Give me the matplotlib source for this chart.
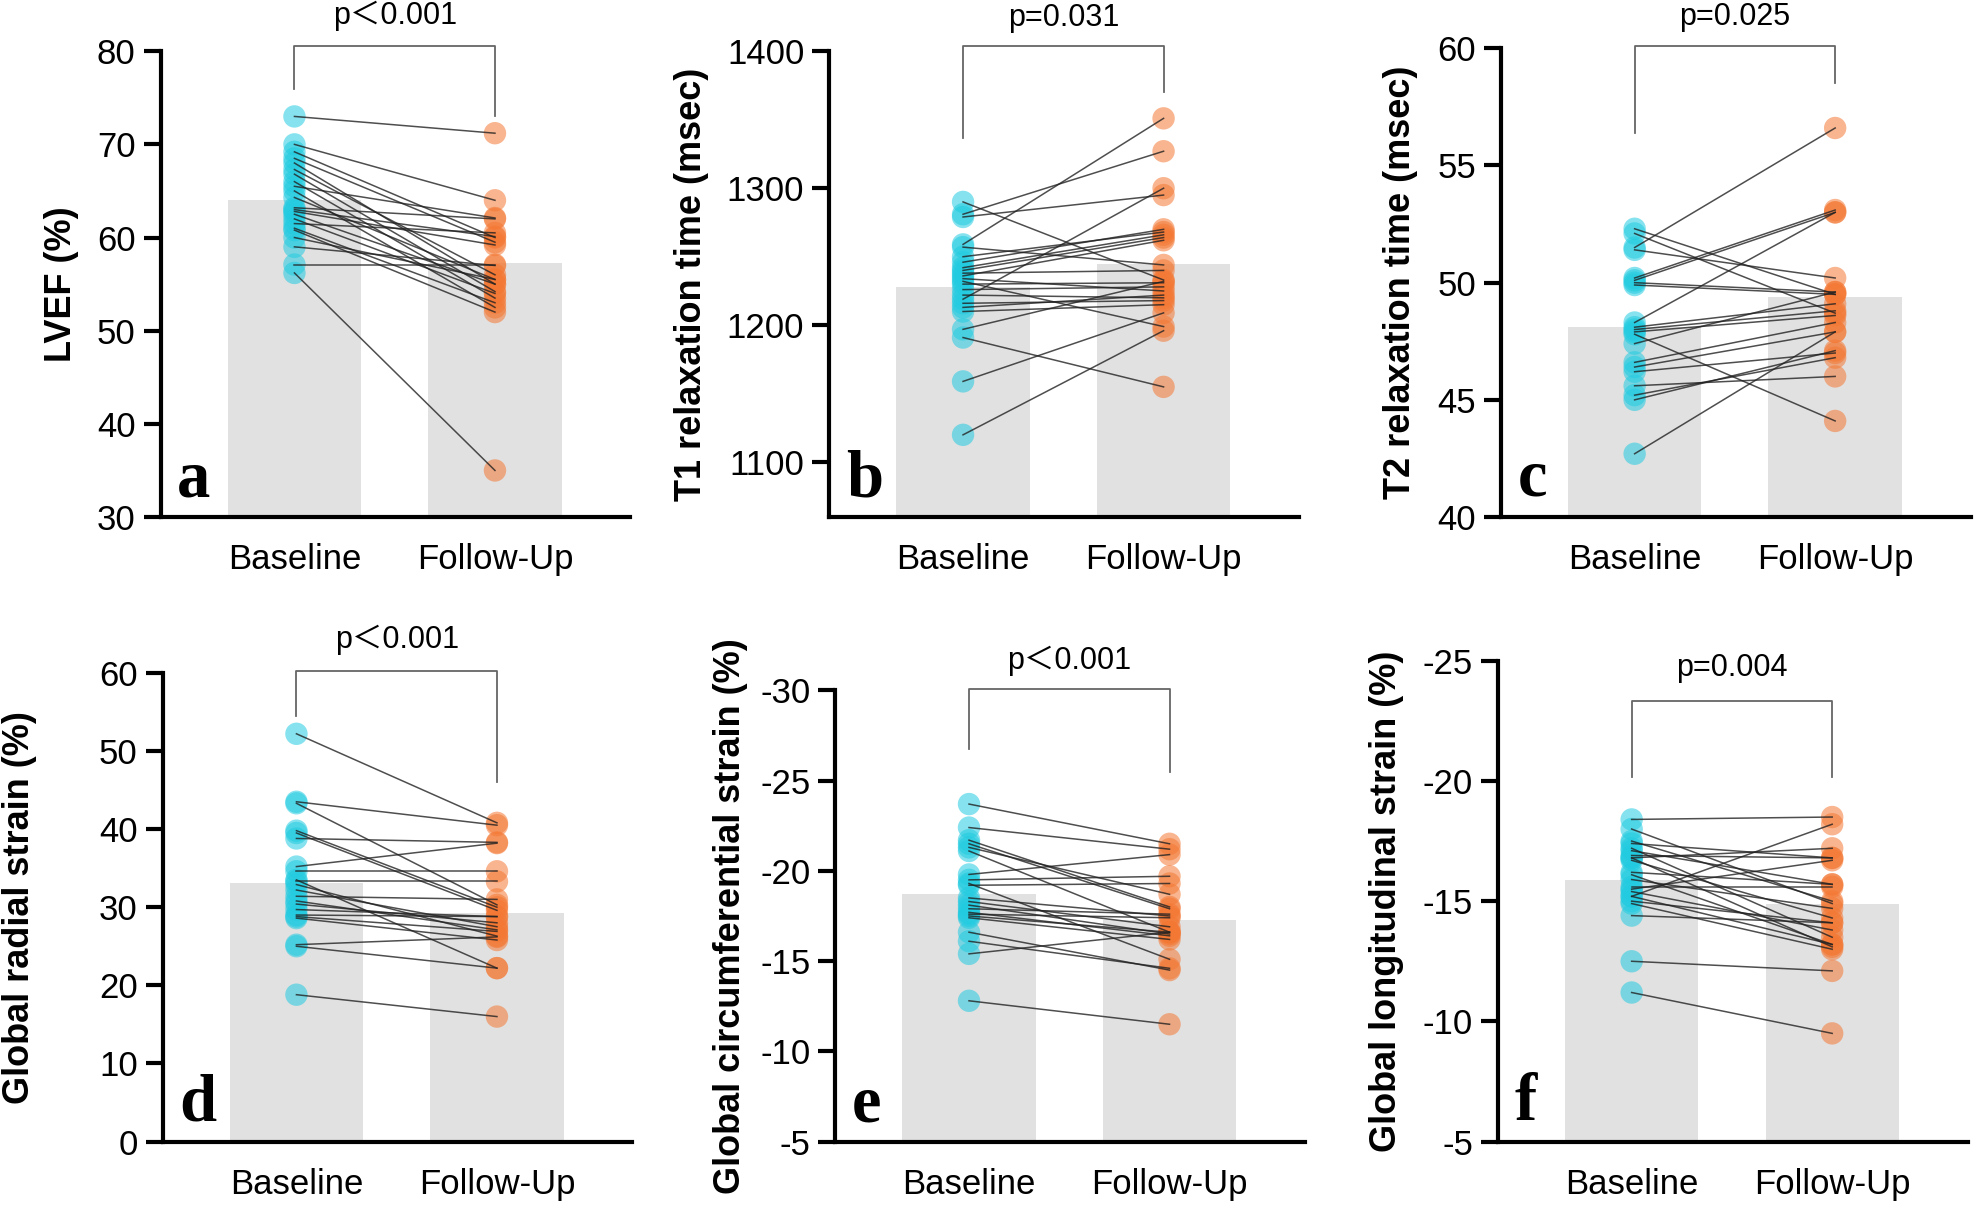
import matplotlib
matplotlib.use("Agg")
import matplotlib.pyplot as plt
import numpy as np

plt.rcParams["font.family"] = ["Liberation Sans", "Noto Sans CJK SC"]
plt.rcParams["axes.unicode_minus"] = False

GROUPS = ["Baseline", "Follow-Up"]

# a: LVEF (%)
lvef_base = [73.0, 70.0, 69.2, 68.5, 68.0, 67.3, 66.8, 66.0, 65.5, 65.0, 64.3, 63.2,
             63.0, 62.8, 62.5, 62.0, 61.5, 61.0, 60.8, 60.0, 59.0, 57.1, 56.2]
lvef_follow = [71.2, 64.0, 60.0, 59.5, 55.0, 56.0, 54.2, 53.5, 62.1, 52.5, 55.5, 62.0,
               60.1, 59.2, 55.0, 54.0, 60.5, 53.0, 52.0, 55.5, 57.0, 57.1, 35.0]
lvef_mean = [64.0, 57.3]

# b: T1 relaxation time (msec)
t1_base = [1290, 1281, 1279, 1259, 1257, 1250, 1246, 1242, 1240, 1238, 1236, 1234,
           1232, 1230, 1226, 1222, 1219, 1216, 1213, 1210, 1197, 1191, 1159, 1120]
t1_follow = [1233, 1327, 1295, 1351, 1244, 1268, 1270, 1266, 1264, 1240, 1262, 1225,
             1199, 1231, 1228, 1220, 1300, 1218, 1222, 1215, 1232, 1155, 1209, 1196]
t1_mean = [1228, 1245]

# c: T2 relaxation time (msec)
t2_base = [52.3, 52.1, 51.5, 51.4, 50.2, 50.1, 50.0, 49.9, 48.3, 48.1, 48.0, 47.9,
           47.8, 47.4, 46.6, 46.4, 46.2, 45.6, 45.2, 45.0, 42.7]
t2_follow = [49.5, 48.7, 56.6, 50.2, 53.1, 53.0, 49.6, 49.5, 53.0, 49.1, 48.8, 48.6,
             44.1, 49.6, 48.3, 47.9, 47.0, 46.0, 46.8, 47.1, 47.9]
t2_mean = [48.1, 49.4]

# d: global radial strain (%)
grs_base = [52.2, 43.5, 43.3, 39.8, 39.5, 38.8, 35.2, 34.6, 33.3, 33.5, 32.9, 32.2,
            31.4, 30.8, 30.4, 29.7, 29.0, 28.8, 28.6, 25.2, 25.0, 18.8]
grs_follow = [40.8, 40.5, 30.3, 30.0, 29.6, 38.3, 38.2, 34.6, 33.3, 22.2, 26.3, 27.5,
              31.0, 27.1, 28.0, 28.8, 28.8, 26.9, 25.8, 26.2, 22.2, 16.0]
grs_mean = [33.1, 29.2]

# e: global circumferential strain (%)
gcs_base = [-23.7, -22.4, -21.7, -21.5, -21.3, -21.1, -19.8, -19.5, -19.3, -19.2, -18.5,
            -18.3, -18.1, -17.9, -17.7, -17.6, -17.5, -17.4, -16.6, -16.1, -15.4, -12.8]
gcs_follow = [-21.5, -21.2, -18.0, -17.9, -18.7, -16.6, -20.9, -19.7, -15.1, -19.3, -17.5,
              -16.9, -16.5, -17.6, -16.4, -17.4, -16.6, -16.2, -14.5, -14.6, -16.6, -11.5]
gcs_mean = [-18.7, -17.3]

# f: global longitudinal strain (%)
gls_base = [-18.4, -18.0, -17.5, -17.4, -17.2, -17.1, -16.9, -16.8, -16.8, -16.7, -16.2, -16.1,
            -15.9, -15.6, -15.5, -15.4, -15.2, -15.2, -15.0, -14.9, -14.4, -12.5, -11.2]
gls_follow = [-18.5, -14.9, -15.0, -16.8, -13.5, -15.7, -16.8, -13.1, -17.2, -14.3, -15.7, -13.2,
              -14.7, -15.6, -16.7, -13.8, -18.2, -13.2, -14.1, -13.0, -14.1, -12.1, -9.5]
gls_mean = [-15.9, -14.9]

CYAN = "#22cbe0"
ORANGE = "#f47834"
BAR = "#e1e1e1"

# label, letter, p text, data, ylim, ticks, axes rect, ylabel x, bracket (top, left end, right end, text y) in axes fraction
panels = [
    ("LVEF (%)", "a", "p\uff1c0.001", lvef_base, lvef_follow, lvef_mean, (30, 80), range(30, 81, 10),
     [0.081, 0.572, 0.2367, 0.3856], -0.212, (1.012, 0.918, 0.862, 1.077)),
    ("T1 relaxation time (msec)", "b", "p=0.031", t1_base, t1_follow, t1_mean, (1060, 1400), range(1100, 1401, 100),
     [0.418, 0.572, 0.2367, 0.3856], -0.293, (1.011, 0.814, 0.912, 1.072)),
    ("T2 relaxation time (msec)", "c", "p=0.025", t2_base, t2_follow, t2_mean, (40, 60), range(40, 61, 5),
     [0.7565, 0.572, 0.2367, 0.388], -0.213, (1.004, 0.82, 0.926, 1.066)),
    ("Global radial strain (%)", "d", "p\uff1c0.001", grs_base, grs_follow, grs_mean, (0, 60), range(0, 61, 10),
     [0.082, 0.055, 0.2367, 0.388], -0.305, (1.003, 0.909, 0.767, 1.071)),
    ("Global circumferential strain (%)", "e", "p\uff1c0.001", gcs_base, gcs_follow, gcs_mean, (-5, -30),
     range(-5, -31, -5), [0.421, 0.055, 0.2367, 0.3735], -0.224, (1.002, 0.87, 0.818, 1.066)),
    ("Global longitudinal strain (%)", "f", "p=0.004", gls_base, gls_follow, gls_mean, (-5, -25),
     range(-5, -26, -5), [0.755, 0.055, 0.2367, 0.398], -0.238, (0.916, 0.758, 0.758, 0.984)),
]

fig = plt.figure(figsize=(19.84, 12.08), dpi=100)

for ylabel, letter, ptext, base, follow, means, ylim, yticks, rect, ylab_x, brk in panels:
    ax = fig.add_axes(rect)
    base = np.array(base, dtype=float)
    follow = np.array(follow, dtype=float)

    ax.bar([0, 1], np.array(means) - ylim[0], bottom=ylim[0], width=0.665, color=BAR, zorder=1)

    ax.scatter(np.zeros(len(base)), base, s=260, color=CYAN, alpha=0.55, edgecolors="none", zorder=3)
    ax.scatter(np.ones(len(follow)), follow, s=260, color=ORANGE, alpha=0.55, edgecolors="none", zorder=3)
    for b, f in zip(base, follow):
        ax.plot([0, 1], [b, f], color="#222222", lw=1.1, alpha=0.8, zorder=4)

    ax.set_xlim(-0.667, 1.675)
    ax.set_ylim(*ylim)
    ax.set_yticks(list(yticks))
    ax.set_xticks([0, 1])
    ax.set_xticklabels(GROUPS)
    for s in ("top", "right"):
        ax.spines[s].set_visible(False)
    for s in ("left", "bottom"):
        ax.spines[s].set_linewidth(3)
    ax.tick_params(axis="y", length=12, width=3, labelsize=25, pad=6)
    ax.tick_params(axis="x", length=0, labelsize=25, pad=19)

    ax.set_ylabel(ylabel, fontsize=26, fontweight="bold", va="center")
    ax.yaxis.set_label_coords(ylab_x, 0.5)

    # significance bracket
    top, lend, rend, ty = brk
    tr = ax.get_xaxis_transform()
    ax.plot([0, 0, 1, 1], [lend, top, top, rend], color="#666666", lw=1.3,
            transform=tr, clip_on=False, zorder=5)
    ax.text(0.5, ty, ptext, transform=tr, ha="center", va="center", fontsize=22)

    ax.text(0.035, 0.045, letter, transform=ax.transAxes, ha="left", va="baseline",
            fontsize=48, fontweight="bold", family="Liberation Serif", zorder=6)

fig.savefig("out.png", dpi=100)
